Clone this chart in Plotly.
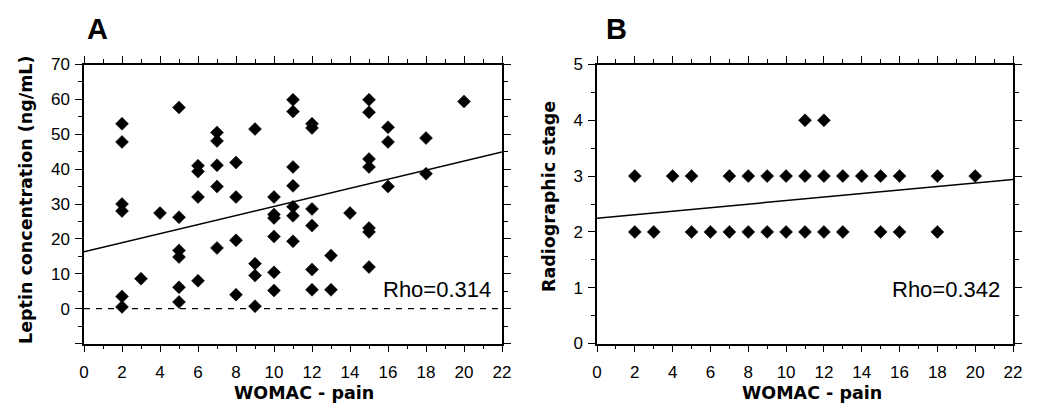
import plotly.graph_objects as go

# ---------------- Panel A data: WOMAC pain vs leptin ----------------
womac_A = [2, 2, 2, 2, 2, 2,
           3,
           4,
           5, 5, 5, 5, 5, 5,
           6, 6, 6, 6,
           7, 7, 7, 7, 7,
           8, 8, 8, 8,
           9, 9, 9, 9,
           10, 10, 10, 10, 10, 10,
           11, 11, 11, 11, 11, 11, 11,
           12, 12, 12, 12, 12, 12,
           13, 13,
           14,
           15, 15, 15, 15, 15, 15, 15,
           16, 16, 16,
           18, 18,
           20]
leptin_A = [53.0, 47.8, 30.0, 28.0, 3.5, 0.5,
            8.6,
            27.4,
            57.7, 26.2, 16.7, 14.8, 6.1, 1.9,
            41.0, 39.3, 32.0, 8.0,
            50.5, 48.1, 41.1, 35.0, 17.4,
            41.9, 32.0, 19.6, 4.0,
            51.5, 12.9, 9.5, 0.7,
            32.0, 27.0, 26.0, 20.7, 10.4, 5.2,
            59.9, 56.5, 40.6, 35.2, 29.2, 26.6, 19.3,
            53.0, 51.8, 28.6, 23.8, 11.2, 5.4,
            15.2, 5.4,
            27.4,
            59.9, 56.3, 42.9, 40.6, 23.1, 22.0, 11.9,
            52.0, 47.8, 35.0,
            48.9, 38.7,
            59.4]
fit_A_x = [0, 22]
fit_A_y = [16.3, 44.9]
zero_x = [0, 22]
zero_y = [0, 0]
rho_A = "Rho=0.314"

# ---------------- Panel B data: WOMAC pain vs radiographic stage ----------------
womac_B = [2, 4, 5, 7, 8, 9, 10, 11, 12, 13, 14, 15, 16, 18, 20,
           2, 3, 5, 6, 7, 8, 9, 10, 11, 12, 13, 15, 16, 18,
           11, 12]
stage_B = [3, 3, 3, 3, 3, 3, 3, 3, 3, 3, 3, 3, 3, 3, 3,
           2, 2, 2, 2, 2, 2, 2, 2, 2, 2, 2, 2, 2, 2,
           4, 4]
fit_B_x = [0, 22]
fit_B_y = [2.245, 2.94]
rho_B = "Rho=0.342"

x_title = "WOMAC - pain"
yA_title = "Leptin concentration (ng/mL)"
yB_title = "Radiographic stage"

x_ticks = list(range(0, 23, 2))
x_minor = list(range(1, 22, 2))
yA_ticks = [-10, 0, 10, 20, 30, 40, 50, 60, 70]
yA_ticktext = ["", "0", "10", "20", "30", "40", "50", "60", "70"]
yA_minor = [-5, 5, 15, 25, 35, 45, 55, 65]
yB_ticks = [0, 1, 2, 3, 4, 5]
yB_minor = [0.5, 1.5, 2.5, 3.5, 4.5]

FONT = "Arial, Liberation Sans, sans-serif"
TFONT = "DejaVu Sans, Arial, sans-serif"
W, H = 1037, 403

fig = go.Figure()

marker = dict(symbol="diamond", size=10, color="black", line=dict(width=0.5, color="black"))

fig.add_trace(go.Scatter(x=zero_x, y=zero_y, mode="lines",
                         line=dict(color="black", width=1.2, dash="6px,6px"),
                         xaxis="x", yaxis="y", hoverinfo="skip"))
fig.add_trace(go.Scatter(x=fit_A_x, y=fit_A_y, mode="lines",
                         line=dict(color="black", width=1.5),
                         xaxis="x", yaxis="y"))
fig.add_trace(go.Scatter(x=womac_A, y=leptin_A, mode="markers", marker=marker,
                         xaxis="x", yaxis="y"))

fig.add_trace(go.Scatter(x=fit_B_x, y=fit_B_y, mode="lines",
                         line=dict(color="black", width=1.5),
                         xaxis="x2", yaxis="y2"))
fig.add_trace(go.Scatter(x=womac_B, y=stage_B, mode="markers", marker=marker,
                         xaxis="x2", yaxis="y2"))

yd = [1 - 343.5 / H, 1 - 64.5 / H]
dA = [84 / W, 502 / W]
dB = [597 / W, 1013 / W]

common = dict(showline=True, linecolor="black", linewidth=1.5, mirror="allticks",
              ticks="outside", ticklen=7, tickwidth=1.3, tickcolor="black",
              showgrid=False, zeroline=False, automargin=False,
              tickfont=dict(family=FONT, size=17, color="black"))

def xaxis(domain, anchor):
    return dict(common, domain=domain, anchor=anchor, range=[0, 22],
                tickmode="array", tickvals=x_ticks, ticklabelstandoff=5,
                minor=dict(tickmode="array", tickvals=x_minor, ticks="outside",
                           ticklen=4, tickwidth=1.2, tickcolor="black"))

def title_ann(text, xpx, ypx, angle=0):
    return dict(text="<b>" + text + "</b>", x=xpx / W, y=1 - ypx / H,
                xref="paper", yref="paper", xanchor="center", yanchor="middle",
                textangle=angle, showarrow=False,
                font=dict(family=TFONT, size=17.5, color="black"))

fig.update_layout(
    width=W, height=H,
    margin=dict(l=0, r=0, t=0, b=0),
    paper_bgcolor="white", plot_bgcolor="white",
    showlegend=False,
    xaxis=xaxis(dA, "y"),
    xaxis2=xaxis(dB, "y2"),
    yaxis=dict(common, domain=yd, anchor="x", range=[-10, 70],
               tickmode="array", tickvals=yA_ticks, ticktext=yA_ticktext,
               ticklabelstandoff=2,
               minor=dict(tickmode="array", tickvals=yA_minor, ticks="outside",
                          ticklen=4, tickwidth=1.2, tickcolor="black")),
    yaxis2=dict(common, domain=yd, anchor="x2", range=[0, 5],
                tickmode="array", tickvals=yB_ticks, ticklabelstandoff=2,
                minor=dict(tickmode="array", tickvals=yB_minor, ticks="outside",
                           ticklen=4, tickwidth=1.2, tickcolor="black")),
    annotations=[
        title_ann(x_title, 304, 393),
        title_ann(x_title, 812, 393),
        title_ann(yA_title, 26, 200, -90),
        title_ann(yB_title, 549, 197, -90),
        dict(text=rho_A, x=21.5, y=5.4, xref="x", yref="y", xanchor="right",
             yanchor="middle", showarrow=False,
             font=dict(family=FONT, size=22, color="black")),
        dict(text=rho_B, x=21.4, y=0.97, xref="x2", yref="y2", xanchor="right",
             yanchor="middle", showarrow=False,
             font=dict(family=FONT, size=22, color="black")),
        dict(text="<b>A</b>", x=97 / W, y=1 - 28.5 / H, xref="paper", yref="paper",
             xanchor="center", yanchor="middle", showarrow=False,
             font=dict(family=FONT, size=29, color="black")),
        dict(text="<b>B</b>", x=616 / W, y=1 - 28.5 / H, xref="paper", yref="paper",
             xanchor="center", yanchor="middle", showarrow=False,
             font=dict(family=FONT, size=29, color="black")),
    ],
)

fig.write_html("out.html")
